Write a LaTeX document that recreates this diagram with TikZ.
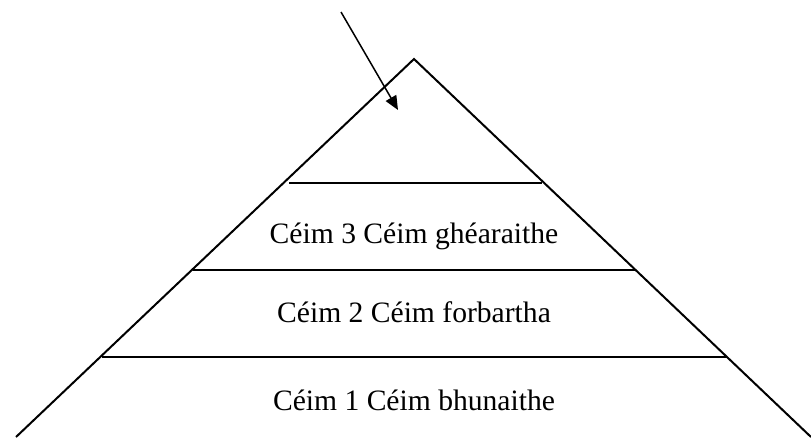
\documentclass[tikz,border=0pt]{standalone}
\usepackage{fontspec}
\setmainfont{Liberation Serif}
\usetikzlibrary{arrows.meta}
\begin{document}
\begin{tikzpicture}[x=1pt,y=-1pt,
  edge/.style={line width=2pt,black},
  lbl/.style={anchor=base,inner sep=0pt,font=\fontsize{29.6}{34}\selectfont}]
\useasboundingbox (0,0) rectangle (811,437);
\coordinate (apex) at (414,59);
\coordinate (bl) at (16,437);
\coordinate (br) at (811,437);
\coordinate (l3) at (289,182.5);
\coordinate (r3) at (542,182.5);
\coordinate (l2) at (193,270);
\coordinate (r2) at (636,270);
\coordinate (l1) at (102,357);
\coordinate (r1) at (727,357);
\draw[edge,line join=miter] (bl) -- (apex) -- (br);
\draw[edge] (l3) -- (r3);
\draw[edge] (l2) -- (r2);
\draw[edge] (l1) -- (r1);
\node[lbl] (t3) at (414,243) {Céim 3 Céim ghéaraithe};
\node[lbl] (t2) at (414,322.5) {Céim 2 Céim forbartha};
\node[lbl] (t1) at (414,410) {Céim 1 Céim bhunaithe};
\coordinate (as) at (341,12);
\coordinate (ae) at (398,110);
\draw[line width=1.5pt,-{Triangle[length=14pt,width=12pt]}] (as) -- (ae);
\end{tikzpicture}
\end{document}
